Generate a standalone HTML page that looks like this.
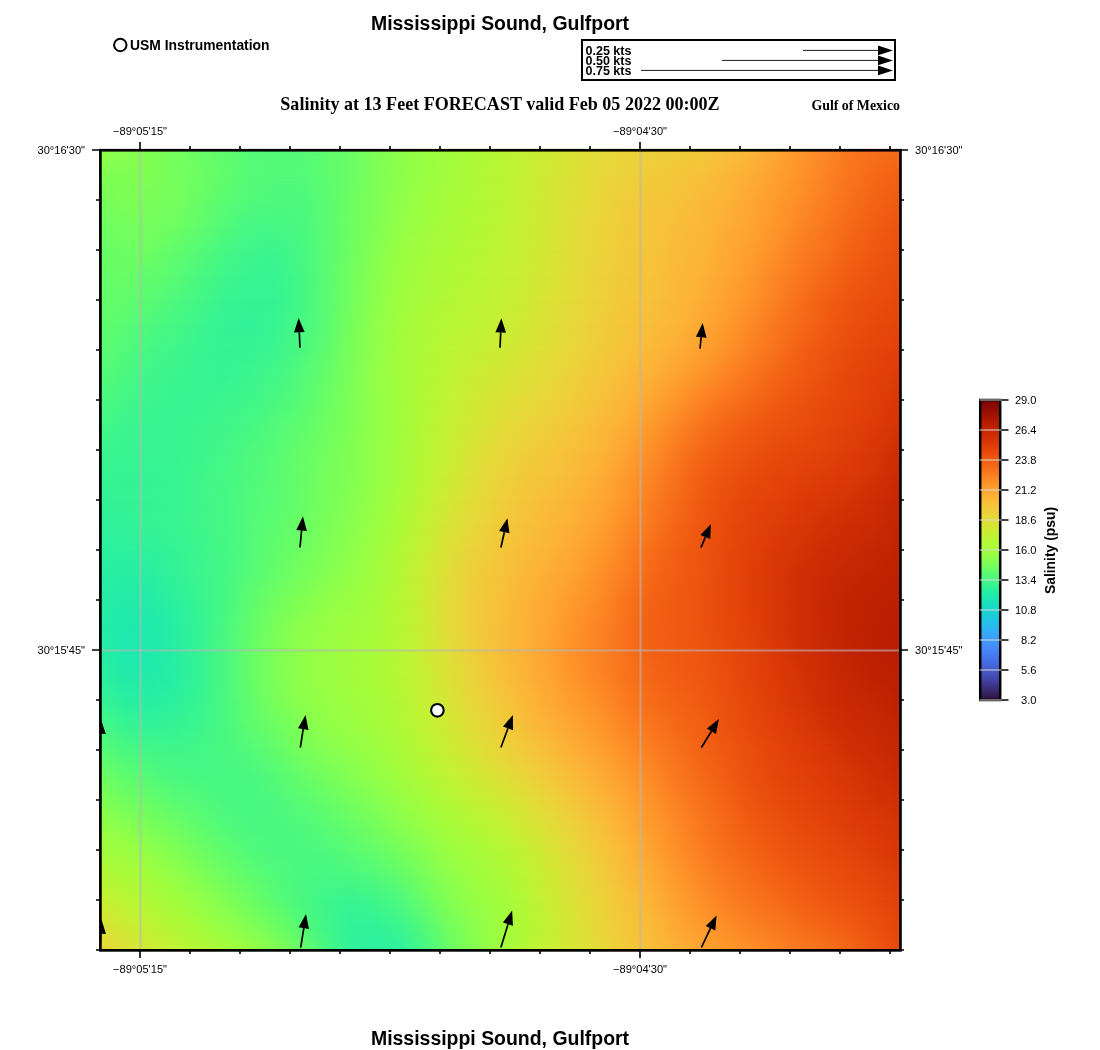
<!DOCTYPE html>
<html><head><meta charset="utf-8"><title>Mississippi Sound, Gulfport</title>
<style>
html,body{margin:0;padding:0;background:#fff}
svg{display:block}
text{font-family:"Liberation Sans",Arial,Helvetica,sans-serif;fill:#000}
.b{font-weight:bold}
.s{font-family:"Liberation Serif","Times New Roman",serif;font-weight:bold}
.t{font-size:11.1px}
</style></head><body>
<svg width="1100" height="1050" viewBox="0 0 1100 1050">
<rect width="1100" height="1050" fill="#fff"/>
<defs><linearGradient id="g0"><stop offset="0" stop-color="#8fff49"/><stop offset="0.03125" stop-color="#88ff4e"/><stop offset="0.0625" stop-color="#80ff53"/><stop offset="0.09375" stop-color="#75fe5c"/><stop offset="0.125" stop-color="#69fd66"/><stop offset="0.1562" stop-color="#5dfc6f"/><stop offset="0.1875" stop-color="#55fa76"/><stop offset="0.2188" stop-color="#52fa7a"/><stop offset="0.25" stop-color="#55fa76"/><stop offset="0.2812" stop-color="#5dfc6f"/><stop offset="0.3125" stop-color="#69fd66"/><stop offset="0.3438" stop-color="#7dff56"/><stop offset="0.375" stop-color="#8bff4b"/><stop offset="0.4062" stop-color="#99fe42"/><stop offset="0.4375" stop-color="#a1fd3d"/><stop offset="0.4688" stop-color="#acfb38"/><stop offset="0.5" stop-color="#b7f735"/><stop offset="0.5312" stop-color="#c3f134"/><stop offset="0.5625" stop-color="#d0ea34"/><stop offset="0.5938" stop-color="#dbe236"/><stop offset="0.625" stop-color="#e3db38"/><stop offset="0.6562" stop-color="#e9d539"/><stop offset="0.6875" stop-color="#ecd13a"/><stop offset="0.7188" stop-color="#efcd3a"/><stop offset="0.75" stop-color="#f2c93a"/><stop offset="0.7812" stop-color="#f7c13a"/><stop offset="0.8125" stop-color="#fbb637"/><stop offset="0.8438" stop-color="#fea732"/><stop offset="0.875" stop-color="#fe962b"/><stop offset="0.9062" stop-color="#fc8725"/><stop offset="0.9375" stop-color="#f9781e"/><stop offset="0.9688" stop-color="#f76f1a"/><stop offset="1" stop-color="#f66c19"/></linearGradient><linearGradient id="g1"><stop offset="0" stop-color="#80ff53"/><stop offset="0.03125" stop-color="#80ff53"/><stop offset="0.0625" stop-color="#80ff53"/><stop offset="0.09375" stop-color="#75fe5c"/><stop offset="0.125" stop-color="#6dfe62"/><stop offset="0.1562" stop-color="#61fc6c"/><stop offset="0.1875" stop-color="#55fa76"/><stop offset="0.2188" stop-color="#52fa7a"/><stop offset="0.25" stop-color="#52fa7a"/><stop offset="0.2812" stop-color="#5dfc6f"/><stop offset="0.3125" stop-color="#69fd66"/><stop offset="0.3438" stop-color="#7dff56"/><stop offset="0.375" stop-color="#8bff4b"/><stop offset="0.4062" stop-color="#99fe42"/><stop offset="0.4375" stop-color="#a4fc3c"/><stop offset="0.4688" stop-color="#affa37"/><stop offset="0.5" stop-color="#b9f635"/><stop offset="0.5312" stop-color="#c6f034"/><stop offset="0.5625" stop-color="#d2e935"/><stop offset="0.5938" stop-color="#dde037"/><stop offset="0.625" stop-color="#e7d739"/><stop offset="0.6562" stop-color="#ecd13a"/><stop offset="0.6875" stop-color="#f1cb3a"/><stop offset="0.7188" stop-color="#f4c73a"/><stop offset="0.75" stop-color="#f7c13a"/><stop offset="0.7812" stop-color="#fbb838"/><stop offset="0.8125" stop-color="#fdae35"/><stop offset="0.8438" stop-color="#fea130"/><stop offset="0.875" stop-color="#fe932a"/><stop offset="0.9062" stop-color="#fc8423"/><stop offset="0.9375" stop-color="#f9751d"/><stop offset="0.9688" stop-color="#f56918"/><stop offset="1" stop-color="#f26014"/></linearGradient><linearGradient id="g2"><stop offset="0" stop-color="#75fe5c"/><stop offset="0.03125" stop-color="#7dff56"/><stop offset="0.0625" stop-color="#79fe59"/><stop offset="0.09375" stop-color="#75fe5c"/><stop offset="0.125" stop-color="#69fd66"/><stop offset="0.1562" stop-color="#59fb73"/><stop offset="0.1875" stop-color="#52fa7a"/><stop offset="0.2188" stop-color="#4ef97d"/><stop offset="0.25" stop-color="#4ef97d"/><stop offset="0.2812" stop-color="#59fb73"/><stop offset="0.3125" stop-color="#6dfe62"/><stop offset="0.3438" stop-color="#7dff56"/><stop offset="0.375" stop-color="#8fff49"/><stop offset="0.4062" stop-color="#9cfe40"/><stop offset="0.4375" stop-color="#a7fc3a"/><stop offset="0.4688" stop-color="#affa37"/><stop offset="0.5" stop-color="#b9f635"/><stop offset="0.5312" stop-color="#c6f034"/><stop offset="0.5625" stop-color="#d4e735"/><stop offset="0.5938" stop-color="#dfdf37"/><stop offset="0.625" stop-color="#e9d539"/><stop offset="0.6562" stop-color="#efcd3a"/><stop offset="0.6875" stop-color="#f4c73a"/><stop offset="0.7188" stop-color="#f6c33a"/><stop offset="0.75" stop-color="#faba39"/><stop offset="0.7812" stop-color="#fcb336"/><stop offset="0.8125" stop-color="#fea732"/><stop offset="0.8438" stop-color="#fe9b2d"/><stop offset="0.875" stop-color="#fd8d27"/><stop offset="0.9062" stop-color="#fb7e21"/><stop offset="0.9375" stop-color="#f76f1a"/><stop offset="0.9688" stop-color="#f36315"/><stop offset="1" stop-color="#f05b12"/></linearGradient><linearGradient id="g3"><stop offset="0" stop-color="#6dfe62"/><stop offset="0.03125" stop-color="#75fe5c"/><stop offset="0.0625" stop-color="#75fe5c"/><stop offset="0.09375" stop-color="#6dfe62"/><stop offset="0.125" stop-color="#61fc6c"/><stop offset="0.1562" stop-color="#52fa7a"/><stop offset="0.1875" stop-color="#46f884"/><stop offset="0.2188" stop-color="#46f884"/><stop offset="0.25" stop-color="#4af880"/><stop offset="0.2812" stop-color="#59fb73"/><stop offset="0.3125" stop-color="#6dfe62"/><stop offset="0.3438" stop-color="#80ff53"/><stop offset="0.375" stop-color="#92ff47"/><stop offset="0.4062" stop-color="#9ffd3f"/><stop offset="0.4375" stop-color="#a9fb39"/><stop offset="0.4688" stop-color="#b1f936"/><stop offset="0.5" stop-color="#bcf534"/><stop offset="0.5312" stop-color="#c8ef34"/><stop offset="0.5625" stop-color="#d4e735"/><stop offset="0.5938" stop-color="#e1dd37"/><stop offset="0.625" stop-color="#ebd339"/><stop offset="0.6562" stop-color="#f1cb3a"/><stop offset="0.6875" stop-color="#f5c53a"/><stop offset="0.7188" stop-color="#f8be39"/><stop offset="0.75" stop-color="#fbb838"/><stop offset="0.7812" stop-color="#fdae35"/><stop offset="0.8125" stop-color="#fea431"/><stop offset="0.8438" stop-color="#fe962b"/><stop offset="0.875" stop-color="#fc8725"/><stop offset="0.9062" stop-color="#f9781e"/><stop offset="0.9375" stop-color="#f56918"/><stop offset="0.9688" stop-color="#f15d13"/><stop offset="1" stop-color="#ed5510"/></linearGradient><linearGradient id="g4"><stop offset="0" stop-color="#69fd66"/><stop offset="0.03125" stop-color="#6dfe62"/><stop offset="0.0625" stop-color="#6dfe62"/><stop offset="0.09375" stop-color="#61fc6c"/><stop offset="0.125" stop-color="#55fa76"/><stop offset="0.1562" stop-color="#46f884"/><stop offset="0.1875" stop-color="#3ff68a"/><stop offset="0.2188" stop-color="#3cf58e"/><stop offset="0.25" stop-color="#46f884"/><stop offset="0.2812" stop-color="#59fb73"/><stop offset="0.3125" stop-color="#6dfe62"/><stop offset="0.3438" stop-color="#84ff51"/><stop offset="0.375" stop-color="#99fe42"/><stop offset="0.4062" stop-color="#a4fc3c"/><stop offset="0.4375" stop-color="#acfb38"/><stop offset="0.4688" stop-color="#b4f836"/><stop offset="0.5" stop-color="#bef434"/><stop offset="0.5312" stop-color="#c8ef34"/><stop offset="0.5625" stop-color="#d7e535"/><stop offset="0.5938" stop-color="#e1dd37"/><stop offset="0.625" stop-color="#ebd339"/><stop offset="0.6562" stop-color="#f1cb3a"/><stop offset="0.6875" stop-color="#f6c33a"/><stop offset="0.7188" stop-color="#f9bc39"/><stop offset="0.75" stop-color="#fbb637"/><stop offset="0.7812" stop-color="#fea933"/><stop offset="0.8125" stop-color="#fe9e2f"/><stop offset="0.8438" stop-color="#fe9029"/><stop offset="0.875" stop-color="#fb7e21"/><stop offset="0.9062" stop-color="#f8721c"/><stop offset="0.9375" stop-color="#f36315"/><stop offset="0.9688" stop-color="#ef5811"/><stop offset="1" stop-color="#eb500e"/></linearGradient><linearGradient id="g5"><stop offset="0" stop-color="#65fd69"/><stop offset="0.03125" stop-color="#69fd66"/><stop offset="0.0625" stop-color="#61fc6c"/><stop offset="0.09375" stop-color="#59fb73"/><stop offset="0.125" stop-color="#4af880"/><stop offset="0.1562" stop-color="#3ff68a"/><stop offset="0.1875" stop-color="#38f491"/><stop offset="0.2188" stop-color="#38f491"/><stop offset="0.25" stop-color="#43f787"/><stop offset="0.2812" stop-color="#59fb73"/><stop offset="0.3125" stop-color="#71fe5f"/><stop offset="0.3438" stop-color="#88ff4e"/><stop offset="0.375" stop-color="#9cfe40"/><stop offset="0.4062" stop-color="#a7fc3a"/><stop offset="0.4375" stop-color="#affa37"/><stop offset="0.4688" stop-color="#b7f735"/><stop offset="0.5" stop-color="#c1f334"/><stop offset="0.5312" stop-color="#cbed34"/><stop offset="0.5625" stop-color="#d9e436"/><stop offset="0.5938" stop-color="#e3db38"/><stop offset="0.625" stop-color="#ecd13a"/><stop offset="0.6562" stop-color="#f2c93a"/><stop offset="0.6875" stop-color="#f6c33a"/><stop offset="0.7188" stop-color="#faba39"/><stop offset="0.75" stop-color="#fcb336"/><stop offset="0.7812" stop-color="#fea732"/><stop offset="0.8125" stop-color="#fe992c"/><stop offset="0.8438" stop-color="#fc8725"/><stop offset="0.875" stop-color="#f9781e"/><stop offset="0.9062" stop-color="#f56918"/><stop offset="0.9375" stop-color="#f05b12"/><stop offset="0.9688" stop-color="#ec530f"/><stop offset="1" stop-color="#e84b0c"/></linearGradient><linearGradient id="g6"><stop offset="0" stop-color="#65fd69"/><stop offset="0.03125" stop-color="#61fc6c"/><stop offset="0.0625" stop-color="#59fb73"/><stop offset="0.09375" stop-color="#4ef97d"/><stop offset="0.125" stop-color="#43f787"/><stop offset="0.1562" stop-color="#38f491"/><stop offset="0.1875" stop-color="#35f394"/><stop offset="0.2188" stop-color="#35f394"/><stop offset="0.25" stop-color="#43f787"/><stop offset="0.2812" stop-color="#59fb73"/><stop offset="0.3125" stop-color="#71fe5f"/><stop offset="0.3438" stop-color="#8bff4b"/><stop offset="0.375" stop-color="#9ffd3f"/><stop offset="0.4062" stop-color="#a9fb39"/><stop offset="0.4375" stop-color="#b4f836"/><stop offset="0.4688" stop-color="#bcf534"/><stop offset="0.5" stop-color="#c3f134"/><stop offset="0.5312" stop-color="#cdec34"/><stop offset="0.5625" stop-color="#dbe236"/><stop offset="0.5938" stop-color="#e5d938"/><stop offset="0.625" stop-color="#ecd13a"/><stop offset="0.6562" stop-color="#f4c73a"/><stop offset="0.6875" stop-color="#f7c13a"/><stop offset="0.7188" stop-color="#fbb838"/><stop offset="0.75" stop-color="#fdae35"/><stop offset="0.7812" stop-color="#fea130"/><stop offset="0.8125" stop-color="#fe932a"/><stop offset="0.8438" stop-color="#fb8122"/><stop offset="0.875" stop-color="#f76f1a"/><stop offset="0.9062" stop-color="#f26014"/><stop offset="0.9375" stop-color="#ed5510"/><stop offset="0.9688" stop-color="#ea4e0d"/><stop offset="1" stop-color="#e7490c"/></linearGradient><linearGradient id="g7"><stop offset="0" stop-color="#61fc6c"/><stop offset="0.03125" stop-color="#59fb73"/><stop offset="0.0625" stop-color="#4ef97d"/><stop offset="0.09375" stop-color="#46f884"/><stop offset="0.125" stop-color="#3cf58e"/><stop offset="0.1562" stop-color="#35f394"/><stop offset="0.1875" stop-color="#32f298"/><stop offset="0.2188" stop-color="#38f491"/><stop offset="0.25" stop-color="#46f884"/><stop offset="0.2812" stop-color="#59fb73"/><stop offset="0.3125" stop-color="#75fe5c"/><stop offset="0.3438" stop-color="#8fff49"/><stop offset="0.375" stop-color="#a1fd3d"/><stop offset="0.4062" stop-color="#affa37"/><stop offset="0.4375" stop-color="#b7f735"/><stop offset="0.4688" stop-color="#bef434"/><stop offset="0.5" stop-color="#c8ef34"/><stop offset="0.5312" stop-color="#d2e935"/><stop offset="0.5625" stop-color="#dde037"/><stop offset="0.5938" stop-color="#e7d739"/><stop offset="0.625" stop-color="#efcd3a"/><stop offset="0.6562" stop-color="#f5c53a"/><stop offset="0.6875" stop-color="#f8be39"/><stop offset="0.7188" stop-color="#fbb637"/><stop offset="0.75" stop-color="#fea933"/><stop offset="0.7812" stop-color="#fe9b2d"/><stop offset="0.8125" stop-color="#fd8a26"/><stop offset="0.8438" stop-color="#f9781e"/><stop offset="0.875" stop-color="#f56918"/><stop offset="0.9062" stop-color="#f05b12"/><stop offset="0.9375" stop-color="#eb500e"/><stop offset="0.9688" stop-color="#e7490c"/><stop offset="1" stop-color="#e4450a"/></linearGradient><linearGradient id="g8"><stop offset="0" stop-color="#5dfc6f"/><stop offset="0.03125" stop-color="#52fa7a"/><stop offset="0.0625" stop-color="#46f884"/><stop offset="0.09375" stop-color="#3ff68a"/><stop offset="0.125" stop-color="#38f491"/><stop offset="0.1562" stop-color="#35f394"/><stop offset="0.1875" stop-color="#35f394"/><stop offset="0.2188" stop-color="#3cf58e"/><stop offset="0.25" stop-color="#4af880"/><stop offset="0.2812" stop-color="#5dfc6f"/><stop offset="0.3125" stop-color="#79fe59"/><stop offset="0.3438" stop-color="#8fff49"/><stop offset="0.375" stop-color="#a4fc3c"/><stop offset="0.4062" stop-color="#affa37"/><stop offset="0.4375" stop-color="#bcf534"/><stop offset="0.4688" stop-color="#c3f134"/><stop offset="0.5" stop-color="#cdec34"/><stop offset="0.5312" stop-color="#d7e535"/><stop offset="0.5625" stop-color="#e1dd37"/><stop offset="0.5938" stop-color="#e9d539"/><stop offset="0.625" stop-color="#f1cb3a"/><stop offset="0.6562" stop-color="#f6c33a"/><stop offset="0.6875" stop-color="#fbb838"/><stop offset="0.7188" stop-color="#fdae35"/><stop offset="0.75" stop-color="#fea130"/><stop offset="0.7812" stop-color="#fe932a"/><stop offset="0.8125" stop-color="#fb8122"/><stop offset="0.8438" stop-color="#f8721c"/><stop offset="0.875" stop-color="#f26014"/><stop offset="0.9062" stop-color="#ed5510"/><stop offset="0.9375" stop-color="#e84b0c"/><stop offset="0.9688" stop-color="#e4450a"/><stop offset="1" stop-color="#e14109"/></linearGradient><linearGradient id="g9"><stop offset="0" stop-color="#55fa76"/><stop offset="0.03125" stop-color="#4af880"/><stop offset="0.0625" stop-color="#3ff68a"/><stop offset="0.09375" stop-color="#3cf58e"/><stop offset="0.125" stop-color="#38f491"/><stop offset="0.1562" stop-color="#35f394"/><stop offset="0.1875" stop-color="#3cf58e"/><stop offset="0.2188" stop-color="#43f787"/><stop offset="0.25" stop-color="#52fa7a"/><stop offset="0.2812" stop-color="#65fd69"/><stop offset="0.3125" stop-color="#79fe59"/><stop offset="0.3438" stop-color="#92ff47"/><stop offset="0.375" stop-color="#a4fc3c"/><stop offset="0.4062" stop-color="#b1f936"/><stop offset="0.4375" stop-color="#bef434"/><stop offset="0.4688" stop-color="#cbed34"/><stop offset="0.5" stop-color="#d4e735"/><stop offset="0.5312" stop-color="#dde037"/><stop offset="0.5625" stop-color="#e5d938"/><stop offset="0.5938" stop-color="#eecf3a"/><stop offset="0.625" stop-color="#f4c73a"/><stop offset="0.6562" stop-color="#f9bc39"/><stop offset="0.6875" stop-color="#fcb136"/><stop offset="0.7188" stop-color="#fea431"/><stop offset="0.75" stop-color="#fe962b"/><stop offset="0.7812" stop-color="#fc8423"/><stop offset="0.8125" stop-color="#f9751d"/><stop offset="0.8438" stop-color="#f46617"/><stop offset="0.875" stop-color="#f05b12"/><stop offset="0.9062" stop-color="#eb500e"/><stop offset="0.9375" stop-color="#e5470b"/><stop offset="0.9688" stop-color="#e14109"/><stop offset="1" stop-color="#dd3d08"/></linearGradient><linearGradient id="g10"><stop offset="0" stop-color="#4ef97d"/><stop offset="0.03125" stop-color="#43f787"/><stop offset="0.0625" stop-color="#3cf58e"/><stop offset="0.09375" stop-color="#38f491"/><stop offset="0.125" stop-color="#38f491"/><stop offset="0.1562" stop-color="#3cf58e"/><stop offset="0.1875" stop-color="#3ff68a"/><stop offset="0.2188" stop-color="#4af880"/><stop offset="0.25" stop-color="#55fa76"/><stop offset="0.2812" stop-color="#69fd66"/><stop offset="0.3125" stop-color="#7dff56"/><stop offset="0.3438" stop-color="#92ff47"/><stop offset="0.375" stop-color="#a1fd3d"/><stop offset="0.4062" stop-color="#b4f836"/><stop offset="0.4375" stop-color="#c1f334"/><stop offset="0.4688" stop-color="#d0ea34"/><stop offset="0.5" stop-color="#dbe236"/><stop offset="0.5312" stop-color="#e3db38"/><stop offset="0.5625" stop-color="#ebd339"/><stop offset="0.5938" stop-color="#f1cb3a"/><stop offset="0.625" stop-color="#f7c13a"/><stop offset="0.6562" stop-color="#fbb637"/><stop offset="0.6875" stop-color="#fea732"/><stop offset="0.7188" stop-color="#fe962b"/><stop offset="0.75" stop-color="#fc8423"/><stop offset="0.7812" stop-color="#f9751d"/><stop offset="0.8125" stop-color="#f56918"/><stop offset="0.8438" stop-color="#f15d13"/><stop offset="0.875" stop-color="#ec530f"/><stop offset="0.9062" stop-color="#e84b0c"/><stop offset="0.9375" stop-color="#e4450a"/><stop offset="0.9688" stop-color="#df3f08"/><stop offset="1" stop-color="#d83706"/></linearGradient><linearGradient id="g11"><stop offset="0" stop-color="#46f884"/><stop offset="0.03125" stop-color="#3cf58e"/><stop offset="0.0625" stop-color="#38f491"/><stop offset="0.09375" stop-color="#38f491"/><stop offset="0.125" stop-color="#3cf58e"/><stop offset="0.1562" stop-color="#3ff68a"/><stop offset="0.1875" stop-color="#46f884"/><stop offset="0.2188" stop-color="#52fa7a"/><stop offset="0.25" stop-color="#5dfc6f"/><stop offset="0.2812" stop-color="#6dfe62"/><stop offset="0.3125" stop-color="#7dff56"/><stop offset="0.3438" stop-color="#92ff47"/><stop offset="0.375" stop-color="#a1fd3d"/><stop offset="0.4062" stop-color="#b4f836"/><stop offset="0.4375" stop-color="#c6f034"/><stop offset="0.4688" stop-color="#d4e735"/><stop offset="0.5" stop-color="#e1dd37"/><stop offset="0.5312" stop-color="#e9d539"/><stop offset="0.5625" stop-color="#efcd3a"/><stop offset="0.5938" stop-color="#f5c53a"/><stop offset="0.625" stop-color="#faba39"/><stop offset="0.6562" stop-color="#fdae35"/><stop offset="0.6875" stop-color="#fe9b2d"/><stop offset="0.7188" stop-color="#fc8725"/><stop offset="0.75" stop-color="#f9751d"/><stop offset="0.7812" stop-color="#f46617"/><stop offset="0.8125" stop-color="#f05b12"/><stop offset="0.8438" stop-color="#ec530f"/><stop offset="0.875" stop-color="#ea4e0d"/><stop offset="0.9062" stop-color="#e5470b"/><stop offset="0.9375" stop-color="#e14109"/><stop offset="0.9688" stop-color="#dc3b07"/><stop offset="1" stop-color="#d43305"/></linearGradient><linearGradient id="g12"><stop offset="0" stop-color="#3cf58e"/><stop offset="0.03125" stop-color="#38f491"/><stop offset="0.0625" stop-color="#38f491"/><stop offset="0.09375" stop-color="#38f491"/><stop offset="0.125" stop-color="#3cf58e"/><stop offset="0.1562" stop-color="#43f787"/><stop offset="0.1875" stop-color="#4ef97d"/><stop offset="0.2188" stop-color="#55fa76"/><stop offset="0.25" stop-color="#65fd69"/><stop offset="0.2812" stop-color="#71fe5f"/><stop offset="0.3125" stop-color="#80ff53"/><stop offset="0.3438" stop-color="#92ff47"/><stop offset="0.375" stop-color="#a4fc3c"/><stop offset="0.4062" stop-color="#b7f735"/><stop offset="0.4375" stop-color="#c8ef34"/><stop offset="0.4688" stop-color="#dbe236"/><stop offset="0.5" stop-color="#e7d739"/><stop offset="0.5312" stop-color="#eecf3a"/><stop offset="0.5625" stop-color="#f4c73a"/><stop offset="0.5938" stop-color="#f8be39"/><stop offset="0.625" stop-color="#fbb637"/><stop offset="0.6562" stop-color="#fea431"/><stop offset="0.6875" stop-color="#fe9029"/><stop offset="0.7188" stop-color="#fa7b1f"/><stop offset="0.75" stop-color="#f56918"/><stop offset="0.7812" stop-color="#f05b12"/><stop offset="0.8125" stop-color="#ec530f"/><stop offset="0.8438" stop-color="#e84b0c"/><stop offset="0.875" stop-color="#e5470b"/><stop offset="0.9062" stop-color="#e2430a"/><stop offset="0.9375" stop-color="#dd3d08"/><stop offset="0.9688" stop-color="#d83706"/><stop offset="1" stop-color="#ce2d04"/></linearGradient><linearGradient id="g13"><stop offset="0" stop-color="#38f491"/><stop offset="0.03125" stop-color="#35f394"/><stop offset="0.0625" stop-color="#35f394"/><stop offset="0.09375" stop-color="#38f491"/><stop offset="0.125" stop-color="#3ff68a"/><stop offset="0.1562" stop-color="#46f884"/><stop offset="0.1875" stop-color="#4ef97d"/><stop offset="0.2188" stop-color="#59fb73"/><stop offset="0.25" stop-color="#65fd69"/><stop offset="0.2812" stop-color="#75fe5c"/><stop offset="0.3125" stop-color="#80ff53"/><stop offset="0.3438" stop-color="#92ff47"/><stop offset="0.375" stop-color="#a4fc3c"/><stop offset="0.4062" stop-color="#b9f635"/><stop offset="0.4375" stop-color="#cdec34"/><stop offset="0.4688" stop-color="#dfdf37"/><stop offset="0.5" stop-color="#ebd339"/><stop offset="0.5312" stop-color="#f2c93a"/><stop offset="0.5625" stop-color="#f6c33a"/><stop offset="0.5938" stop-color="#faba39"/><stop offset="0.625" stop-color="#fdae35"/><stop offset="0.6562" stop-color="#fe9b2d"/><stop offset="0.6875" stop-color="#fc8725"/><stop offset="0.7188" stop-color="#f8721c"/><stop offset="0.75" stop-color="#f26014"/><stop offset="0.7812" stop-color="#ec530f"/><stop offset="0.8125" stop-color="#e84b0c"/><stop offset="0.8438" stop-color="#e4450a"/><stop offset="0.875" stop-color="#e14109"/><stop offset="0.9062" stop-color="#dd3d08"/><stop offset="0.9375" stop-color="#da3907"/><stop offset="0.9688" stop-color="#d43305"/><stop offset="1" stop-color="#ca2a04"/></linearGradient><linearGradient id="g14"><stop offset="0" stop-color="#32f298"/><stop offset="0.03125" stop-color="#35f394"/><stop offset="0.0625" stop-color="#35f394"/><stop offset="0.09375" stop-color="#38f491"/><stop offset="0.125" stop-color="#3ff68a"/><stop offset="0.1562" stop-color="#46f884"/><stop offset="0.1875" stop-color="#52fa7a"/><stop offset="0.2188" stop-color="#59fb73"/><stop offset="0.25" stop-color="#65fd69"/><stop offset="0.2812" stop-color="#75fe5c"/><stop offset="0.3125" stop-color="#84ff51"/><stop offset="0.3438" stop-color="#96fe44"/><stop offset="0.375" stop-color="#a9fb39"/><stop offset="0.4062" stop-color="#bef434"/><stop offset="0.4375" stop-color="#d2e935"/><stop offset="0.4688" stop-color="#e3db38"/><stop offset="0.5" stop-color="#eecf3a"/><stop offset="0.5312" stop-color="#f5c53a"/><stop offset="0.5625" stop-color="#f9bc39"/><stop offset="0.5938" stop-color="#fcb336"/><stop offset="0.625" stop-color="#fea732"/><stop offset="0.6562" stop-color="#fe962b"/><stop offset="0.6875" stop-color="#fb7e21"/><stop offset="0.7188" stop-color="#f66c19"/><stop offset="0.75" stop-color="#f05b12"/><stop offset="0.7812" stop-color="#ea4e0d"/><stop offset="0.8125" stop-color="#e4450a"/><stop offset="0.8438" stop-color="#e14109"/><stop offset="0.875" stop-color="#dc3b07"/><stop offset="0.9062" stop-color="#d83706"/><stop offset="0.9375" stop-color="#d43305"/><stop offset="0.9688" stop-color="#ce2d04"/><stop offset="1" stop-color="#c52603"/></linearGradient><linearGradient id="g15"><stop offset="0" stop-color="#2ff19b"/><stop offset="0.03125" stop-color="#32f298"/><stop offset="0.0625" stop-color="#35f394"/><stop offset="0.09375" stop-color="#38f491"/><stop offset="0.125" stop-color="#3ff68a"/><stop offset="0.1562" stop-color="#46f884"/><stop offset="0.1875" stop-color="#52fa7a"/><stop offset="0.2188" stop-color="#5dfc6f"/><stop offset="0.25" stop-color="#69fd66"/><stop offset="0.2812" stop-color="#79fe59"/><stop offset="0.3125" stop-color="#88ff4e"/><stop offset="0.3438" stop-color="#99fe42"/><stop offset="0.375" stop-color="#acfb38"/><stop offset="0.4062" stop-color="#c3f134"/><stop offset="0.4375" stop-color="#d9e436"/><stop offset="0.4688" stop-color="#e7d739"/><stop offset="0.5" stop-color="#f1cb3a"/><stop offset="0.5312" stop-color="#f7c13a"/><stop offset="0.5625" stop-color="#fbb838"/><stop offset="0.5938" stop-color="#fdae35"/><stop offset="0.625" stop-color="#fea130"/><stop offset="0.6562" stop-color="#fd8d27"/><stop offset="0.6875" stop-color="#f9781e"/><stop offset="0.7188" stop-color="#f46617"/><stop offset="0.75" stop-color="#ef5811"/><stop offset="0.7812" stop-color="#e84b0c"/><stop offset="0.8125" stop-color="#e2430a"/><stop offset="0.8438" stop-color="#dd3d08"/><stop offset="0.875" stop-color="#d83706"/><stop offset="0.9062" stop-color="#d23105"/><stop offset="0.9375" stop-color="#ce2d04"/><stop offset="0.9688" stop-color="#ca2a04"/><stop offset="1" stop-color="#c32503"/></linearGradient><linearGradient id="g16"><stop offset="0" stop-color="#2cf09e"/><stop offset="0.03125" stop-color="#2cf09e"/><stop offset="0.0625" stop-color="#2ff19b"/><stop offset="0.09375" stop-color="#35f394"/><stop offset="0.125" stop-color="#3cf58e"/><stop offset="0.1562" stop-color="#46f884"/><stop offset="0.1875" stop-color="#52fa7a"/><stop offset="0.2188" stop-color="#61fc6c"/><stop offset="0.25" stop-color="#6dfe62"/><stop offset="0.2812" stop-color="#7dff56"/><stop offset="0.3125" stop-color="#8bff4b"/><stop offset="0.3438" stop-color="#9ffd3f"/><stop offset="0.375" stop-color="#b1f936"/><stop offset="0.4062" stop-color="#c8ef34"/><stop offset="0.4375" stop-color="#dde037"/><stop offset="0.4688" stop-color="#ecd13a"/><stop offset="0.5" stop-color="#f4c73a"/><stop offset="0.5312" stop-color="#f9bc39"/><stop offset="0.5625" stop-color="#fcb336"/><stop offset="0.5938" stop-color="#fea732"/><stop offset="0.625" stop-color="#fe992c"/><stop offset="0.6562" stop-color="#fc8423"/><stop offset="0.6875" stop-color="#f76f1a"/><stop offset="0.7188" stop-color="#f26014"/><stop offset="0.75" stop-color="#ed5510"/><stop offset="0.7812" stop-color="#e7490c"/><stop offset="0.8125" stop-color="#e14109"/><stop offset="0.8438" stop-color="#da3907"/><stop offset="0.875" stop-color="#d43305"/><stop offset="0.9062" stop-color="#ce2d04"/><stop offset="0.9375" stop-color="#ca2a04"/><stop offset="0.9688" stop-color="#c52603"/><stop offset="1" stop-color="#c12302"/></linearGradient><linearGradient id="g17"><stop offset="0" stop-color="#2aefa1"/><stop offset="0.03125" stop-color="#27eea4"/><stop offset="0.0625" stop-color="#2aefa1"/><stop offset="0.09375" stop-color="#32f298"/><stop offset="0.125" stop-color="#3cf58e"/><stop offset="0.1562" stop-color="#46f884"/><stop offset="0.1875" stop-color="#55fa76"/><stop offset="0.2188" stop-color="#65fd69"/><stop offset="0.25" stop-color="#75fe5c"/><stop offset="0.2812" stop-color="#84ff51"/><stop offset="0.3125" stop-color="#92ff47"/><stop offset="0.3438" stop-color="#a1fd3d"/><stop offset="0.375" stop-color="#b4f836"/><stop offset="0.4062" stop-color="#cdec34"/><stop offset="0.4375" stop-color="#e1dd37"/><stop offset="0.4688" stop-color="#efcd3a"/><stop offset="0.5" stop-color="#f6c33a"/><stop offset="0.5312" stop-color="#fbb838"/><stop offset="0.5625" stop-color="#fdac34"/><stop offset="0.5938" stop-color="#fea130"/><stop offset="0.625" stop-color="#fe9029"/><stop offset="0.6562" stop-color="#fb7e21"/><stop offset="0.6875" stop-color="#f56918"/><stop offset="0.7188" stop-color="#f15d13"/><stop offset="0.75" stop-color="#ed5510"/><stop offset="0.7812" stop-color="#e7490c"/><stop offset="0.8125" stop-color="#df3f08"/><stop offset="0.8438" stop-color="#d83706"/><stop offset="0.875" stop-color="#d02f05"/><stop offset="0.9062" stop-color="#ca2a04"/><stop offset="0.9375" stop-color="#c52603"/><stop offset="0.9688" stop-color="#c12302"/><stop offset="1" stop-color="#be2102"/></linearGradient><linearGradient id="g18"><stop offset="0" stop-color="#27eea4"/><stop offset="0.03125" stop-color="#22ebaa"/><stop offset="0.0625" stop-color="#25eca7"/><stop offset="0.09375" stop-color="#2cf09e"/><stop offset="0.125" stop-color="#38f491"/><stop offset="0.1562" stop-color="#46f884"/><stop offset="0.1875" stop-color="#5dfc6f"/><stop offset="0.2188" stop-color="#71fe5f"/><stop offset="0.25" stop-color="#80ff53"/><stop offset="0.2812" stop-color="#8fff49"/><stop offset="0.3125" stop-color="#99fe42"/><stop offset="0.3438" stop-color="#a4fc3c"/><stop offset="0.375" stop-color="#b7f735"/><stop offset="0.4062" stop-color="#cdec34"/><stop offset="0.4375" stop-color="#e3db38"/><stop offset="0.4688" stop-color="#f1cb3a"/><stop offset="0.5" stop-color="#f7c13a"/><stop offset="0.5312" stop-color="#fcb336"/><stop offset="0.5625" stop-color="#fea732"/><stop offset="0.5938" stop-color="#fe992c"/><stop offset="0.625" stop-color="#fd8a26"/><stop offset="0.6562" stop-color="#f9751d"/><stop offset="0.6875" stop-color="#f36315"/><stop offset="0.7188" stop-color="#f05b12"/><stop offset="0.75" stop-color="#ec530f"/><stop offset="0.7812" stop-color="#e7490c"/><stop offset="0.8125" stop-color="#df3f08"/><stop offset="0.8438" stop-color="#d83706"/><stop offset="0.875" stop-color="#d02f05"/><stop offset="0.9062" stop-color="#c82803"/><stop offset="0.9375" stop-color="#c12302"/><stop offset="0.9688" stop-color="#be2102"/><stop offset="1" stop-color="#bc2002"/></linearGradient><linearGradient id="g19"><stop offset="0" stop-color="#25eca7"/><stop offset="0.03125" stop-color="#20eaac"/><stop offset="0.0625" stop-color="#20eaac"/><stop offset="0.09375" stop-color="#27eea4"/><stop offset="0.125" stop-color="#35f394"/><stop offset="0.1562" stop-color="#4af880"/><stop offset="0.1875" stop-color="#61fc6c"/><stop offset="0.2188" stop-color="#79fe59"/><stop offset="0.25" stop-color="#8bff4b"/><stop offset="0.2812" stop-color="#96fe44"/><stop offset="0.3125" stop-color="#9ffd3f"/><stop offset="0.3438" stop-color="#a7fc3a"/><stop offset="0.375" stop-color="#b7f735"/><stop offset="0.4062" stop-color="#cdec34"/><stop offset="0.4375" stop-color="#e3db38"/><stop offset="0.4688" stop-color="#f1cb3a"/><stop offset="0.5" stop-color="#f8be39"/><stop offset="0.5312" stop-color="#fcb136"/><stop offset="0.5625" stop-color="#fea431"/><stop offset="0.5938" stop-color="#fe932a"/><stop offset="0.625" stop-color="#fc8423"/><stop offset="0.6562" stop-color="#f8721c"/><stop offset="0.6875" stop-color="#f26014"/><stop offset="0.7188" stop-color="#f05b12"/><stop offset="0.75" stop-color="#ec530f"/><stop offset="0.7812" stop-color="#e7490c"/><stop offset="0.8125" stop-color="#e14109"/><stop offset="0.8438" stop-color="#d83706"/><stop offset="0.875" stop-color="#d02f05"/><stop offset="0.9062" stop-color="#c82803"/><stop offset="0.9375" stop-color="#c12302"/><stop offset="0.9688" stop-color="#bc2002"/><stop offset="1" stop-color="#b91e02"/></linearGradient><linearGradient id="g20"><stop offset="0" stop-color="#27eea4"/><stop offset="0.03125" stop-color="#1fe9af"/><stop offset="0.0625" stop-color="#20eaac"/><stop offset="0.09375" stop-color="#27eea4"/><stop offset="0.125" stop-color="#35f394"/><stop offset="0.1562" stop-color="#4af880"/><stop offset="0.1875" stop-color="#65fd69"/><stop offset="0.2188" stop-color="#7dff56"/><stop offset="0.25" stop-color="#8fff49"/><stop offset="0.2812" stop-color="#99fe42"/><stop offset="0.3125" stop-color="#a1fd3d"/><stop offset="0.3438" stop-color="#a9fb39"/><stop offset="0.375" stop-color="#b7f735"/><stop offset="0.4062" stop-color="#cdec34"/><stop offset="0.4375" stop-color="#e1dd37"/><stop offset="0.4688" stop-color="#efcd3a"/><stop offset="0.5" stop-color="#f8be39"/><stop offset="0.5312" stop-color="#fcb136"/><stop offset="0.5625" stop-color="#fea130"/><stop offset="0.5938" stop-color="#fe9029"/><stop offset="0.625" stop-color="#fb8122"/><stop offset="0.6562" stop-color="#f8721c"/><stop offset="0.6875" stop-color="#f26014"/><stop offset="0.7188" stop-color="#f05b12"/><stop offset="0.75" stop-color="#ed5510"/><stop offset="0.7812" stop-color="#e84b0c"/><stop offset="0.8125" stop-color="#e2430a"/><stop offset="0.8438" stop-color="#da3907"/><stop offset="0.875" stop-color="#d02f05"/><stop offset="0.9062" stop-color="#ca2a04"/><stop offset="0.9375" stop-color="#c12302"/><stop offset="0.9688" stop-color="#bc2002"/><stop offset="1" stop-color="#b91e02"/></linearGradient><linearGradient id="g21"><stop offset="0" stop-color="#2cf09e"/><stop offset="0.03125" stop-color="#22ebaa"/><stop offset="0.0625" stop-color="#22ebaa"/><stop offset="0.09375" stop-color="#27eea4"/><stop offset="0.125" stop-color="#35f394"/><stop offset="0.1562" stop-color="#4af880"/><stop offset="0.1875" stop-color="#65fd69"/><stop offset="0.2188" stop-color="#7dff56"/><stop offset="0.25" stop-color="#8fff49"/><stop offset="0.2812" stop-color="#99fe42"/><stop offset="0.3125" stop-color="#a1fd3d"/><stop offset="0.3438" stop-color="#a9fb39"/><stop offset="0.375" stop-color="#b7f735"/><stop offset="0.4062" stop-color="#c8ef34"/><stop offset="0.4375" stop-color="#dde037"/><stop offset="0.4688" stop-color="#ecd13a"/><stop offset="0.5" stop-color="#f7c13a"/><stop offset="0.5312" stop-color="#fcb336"/><stop offset="0.5625" stop-color="#fea431"/><stop offset="0.5938" stop-color="#fe932a"/><stop offset="0.625" stop-color="#fc8423"/><stop offset="0.6562" stop-color="#f9751d"/><stop offset="0.6875" stop-color="#f46617"/><stop offset="0.7188" stop-color="#f15d13"/><stop offset="0.75" stop-color="#ef5811"/><stop offset="0.7812" stop-color="#ea4e0d"/><stop offset="0.8125" stop-color="#e2430a"/><stop offset="0.8438" stop-color="#dc3b07"/><stop offset="0.875" stop-color="#d43305"/><stop offset="0.9062" stop-color="#cc2b04"/><stop offset="0.9375" stop-color="#c52603"/><stop offset="0.9688" stop-color="#be2102"/><stop offset="1" stop-color="#bc2002"/></linearGradient><linearGradient id="g22"><stop offset="0" stop-color="#38f491"/><stop offset="0.03125" stop-color="#2aefa1"/><stop offset="0.0625" stop-color="#27eea4"/><stop offset="0.09375" stop-color="#2cf09e"/><stop offset="0.125" stop-color="#38f491"/><stop offset="0.1562" stop-color="#4af880"/><stop offset="0.1875" stop-color="#61fc6c"/><stop offset="0.2188" stop-color="#79fe59"/><stop offset="0.25" stop-color="#8bff4b"/><stop offset="0.2812" stop-color="#96fe44"/><stop offset="0.3125" stop-color="#9ffd3f"/><stop offset="0.3438" stop-color="#a7fc3a"/><stop offset="0.375" stop-color="#b4f836"/><stop offset="0.4062" stop-color="#c6f034"/><stop offset="0.4375" stop-color="#d9e436"/><stop offset="0.4688" stop-color="#e9d539"/><stop offset="0.5" stop-color="#f4c73a"/><stop offset="0.5312" stop-color="#fbb838"/><stop offset="0.5625" stop-color="#fea933"/><stop offset="0.5938" stop-color="#fe9b2d"/><stop offset="0.625" stop-color="#fd8d27"/><stop offset="0.6562" stop-color="#fa7b1f"/><stop offset="0.6875" stop-color="#f66c19"/><stop offset="0.7188" stop-color="#f36315"/><stop offset="0.75" stop-color="#f05b12"/><stop offset="0.7812" stop-color="#eb500e"/><stop offset="0.8125" stop-color="#e5470b"/><stop offset="0.8438" stop-color="#dd3d08"/><stop offset="0.875" stop-color="#d63506"/><stop offset="0.9062" stop-color="#ce2d04"/><stop offset="0.9375" stop-color="#c82803"/><stop offset="0.9688" stop-color="#c32503"/><stop offset="1" stop-color="#be2102"/></linearGradient><linearGradient id="g23"><stop offset="0" stop-color="#46f884"/><stop offset="0.03125" stop-color="#38f491"/><stop offset="0.0625" stop-color="#32f298"/><stop offset="0.09375" stop-color="#35f394"/><stop offset="0.125" stop-color="#3cf58e"/><stop offset="0.1562" stop-color="#4af880"/><stop offset="0.1875" stop-color="#5dfc6f"/><stop offset="0.2188" stop-color="#6dfe62"/><stop offset="0.25" stop-color="#80ff53"/><stop offset="0.2812" stop-color="#8fff49"/><stop offset="0.3125" stop-color="#99fe42"/><stop offset="0.3438" stop-color="#a4fc3c"/><stop offset="0.375" stop-color="#affa37"/><stop offset="0.4062" stop-color="#c1f334"/><stop offset="0.4375" stop-color="#d2e935"/><stop offset="0.4688" stop-color="#e3db38"/><stop offset="0.5" stop-color="#efcd3a"/><stop offset="0.5312" stop-color="#f8be39"/><stop offset="0.5625" stop-color="#fcb136"/><stop offset="0.5938" stop-color="#fea431"/><stop offset="0.625" stop-color="#fe962b"/><stop offset="0.6562" stop-color="#fc8423"/><stop offset="0.6875" stop-color="#f9751d"/><stop offset="0.7188" stop-color="#f56918"/><stop offset="0.75" stop-color="#f26014"/><stop offset="0.7812" stop-color="#ec530f"/><stop offset="0.8125" stop-color="#e7490c"/><stop offset="0.8438" stop-color="#e14109"/><stop offset="0.875" stop-color="#da3907"/><stop offset="0.9062" stop-color="#d23105"/><stop offset="0.9375" stop-color="#cc2b04"/><stop offset="0.9688" stop-color="#c82803"/><stop offset="1" stop-color="#c32503"/></linearGradient><linearGradient id="g24"><stop offset="0" stop-color="#59fb73"/><stop offset="0.03125" stop-color="#4af880"/><stop offset="0.0625" stop-color="#43f787"/><stop offset="0.09375" stop-color="#3ff68a"/><stop offset="0.125" stop-color="#43f787"/><stop offset="0.1562" stop-color="#4af880"/><stop offset="0.1875" stop-color="#52fa7a"/><stop offset="0.2188" stop-color="#61fc6c"/><stop offset="0.25" stop-color="#75fe5c"/><stop offset="0.2812" stop-color="#84ff51"/><stop offset="0.3125" stop-color="#8fff49"/><stop offset="0.3438" stop-color="#9cfe40"/><stop offset="0.375" stop-color="#a9fb39"/><stop offset="0.4062" stop-color="#b9f635"/><stop offset="0.4375" stop-color="#cbed34"/><stop offset="0.4688" stop-color="#dbe236"/><stop offset="0.5" stop-color="#e9d539"/><stop offset="0.5312" stop-color="#f2c93a"/><stop offset="0.5625" stop-color="#f9bc39"/><stop offset="0.5938" stop-color="#fdae35"/><stop offset="0.625" stop-color="#fea130"/><stop offset="0.6562" stop-color="#fe9029"/><stop offset="0.6875" stop-color="#fb7e21"/><stop offset="0.7188" stop-color="#f8721c"/><stop offset="0.75" stop-color="#f36315"/><stop offset="0.7812" stop-color="#ef5811"/><stop offset="0.8125" stop-color="#ea4e0d"/><stop offset="0.8438" stop-color="#e4450a"/><stop offset="0.875" stop-color="#dd3d08"/><stop offset="0.9062" stop-color="#d83706"/><stop offset="0.9375" stop-color="#d02f05"/><stop offset="0.9688" stop-color="#cc2b04"/><stop offset="1" stop-color="#c52603"/></linearGradient><linearGradient id="g25"><stop offset="0" stop-color="#6dfe62"/><stop offset="0.03125" stop-color="#5dfc6f"/><stop offset="0.0625" stop-color="#52fa7a"/><stop offset="0.09375" stop-color="#4af880"/><stop offset="0.125" stop-color="#46f884"/><stop offset="0.1562" stop-color="#46f884"/><stop offset="0.1875" stop-color="#4af880"/><stop offset="0.2188" stop-color="#55fa76"/><stop offset="0.25" stop-color="#65fd69"/><stop offset="0.2812" stop-color="#75fe5c"/><stop offset="0.3125" stop-color="#84ff51"/><stop offset="0.3438" stop-color="#92ff47"/><stop offset="0.375" stop-color="#a1fd3d"/><stop offset="0.4062" stop-color="#b1f936"/><stop offset="0.4375" stop-color="#c1f334"/><stop offset="0.4688" stop-color="#d0ea34"/><stop offset="0.5" stop-color="#dfdf37"/><stop offset="0.5312" stop-color="#ebd339"/><stop offset="0.5625" stop-color="#f4c73a"/><stop offset="0.5938" stop-color="#faba39"/><stop offset="0.625" stop-color="#fdac34"/><stop offset="0.6562" stop-color="#fe9b2d"/><stop offset="0.6875" stop-color="#fd8a26"/><stop offset="0.7188" stop-color="#f9781e"/><stop offset="0.75" stop-color="#f56918"/><stop offset="0.7812" stop-color="#f15d13"/><stop offset="0.8125" stop-color="#eb500e"/><stop offset="0.8438" stop-color="#e5470b"/><stop offset="0.875" stop-color="#e14109"/><stop offset="0.9062" stop-color="#dc3b07"/><stop offset="0.9375" stop-color="#d63506"/><stop offset="0.9688" stop-color="#d02f05"/><stop offset="1" stop-color="#ca2a04"/></linearGradient><linearGradient id="g26"><stop offset="0" stop-color="#80ff53"/><stop offset="0.03125" stop-color="#71fe5f"/><stop offset="0.0625" stop-color="#65fd69"/><stop offset="0.09375" stop-color="#59fb73"/><stop offset="0.125" stop-color="#52fa7a"/><stop offset="0.1562" stop-color="#4af880"/><stop offset="0.1875" stop-color="#46f884"/><stop offset="0.2188" stop-color="#4ef97d"/><stop offset="0.25" stop-color="#59fb73"/><stop offset="0.2812" stop-color="#65fd69"/><stop offset="0.3125" stop-color="#75fe5c"/><stop offset="0.3438" stop-color="#84ff51"/><stop offset="0.375" stop-color="#96fe44"/><stop offset="0.4062" stop-color="#a4fc3c"/><stop offset="0.4375" stop-color="#b4f836"/><stop offset="0.4688" stop-color="#c3f134"/><stop offset="0.5" stop-color="#d0ea34"/><stop offset="0.5312" stop-color="#dfdf37"/><stop offset="0.5625" stop-color="#ebd339"/><stop offset="0.5938" stop-color="#f5c53a"/><stop offset="0.625" stop-color="#fbb637"/><stop offset="0.6562" stop-color="#fea732"/><stop offset="0.6875" stop-color="#fe932a"/><stop offset="0.7188" stop-color="#fb8122"/><stop offset="0.75" stop-color="#f8721c"/><stop offset="0.7812" stop-color="#f36315"/><stop offset="0.8125" stop-color="#ed5510"/><stop offset="0.8438" stop-color="#e84b0c"/><stop offset="0.875" stop-color="#e4450a"/><stop offset="0.9062" stop-color="#df3f08"/><stop offset="0.9375" stop-color="#da3907"/><stop offset="0.9688" stop-color="#d43305"/><stop offset="1" stop-color="#d02f05"/></linearGradient><linearGradient id="g27"><stop offset="0" stop-color="#92ff47"/><stop offset="0.03125" stop-color="#88ff4e"/><stop offset="0.0625" stop-color="#79fe59"/><stop offset="0.09375" stop-color="#6dfe62"/><stop offset="0.125" stop-color="#5dfc6f"/><stop offset="0.1562" stop-color="#52fa7a"/><stop offset="0.1875" stop-color="#4af880"/><stop offset="0.2188" stop-color="#4af880"/><stop offset="0.25" stop-color="#4ef97d"/><stop offset="0.2812" stop-color="#59fb73"/><stop offset="0.3125" stop-color="#65fd69"/><stop offset="0.3438" stop-color="#75fe5c"/><stop offset="0.375" stop-color="#88ff4e"/><stop offset="0.4062" stop-color="#99fe42"/><stop offset="0.4375" stop-color="#a7fc3a"/><stop offset="0.4688" stop-color="#b4f836"/><stop offset="0.5" stop-color="#c1f334"/><stop offset="0.5312" stop-color="#d2e935"/><stop offset="0.5625" stop-color="#e1dd37"/><stop offset="0.5938" stop-color="#eecf3a"/><stop offset="0.625" stop-color="#f7c13a"/><stop offset="0.6562" stop-color="#fdae35"/><stop offset="0.6875" stop-color="#fe9b2d"/><stop offset="0.7188" stop-color="#fd8a26"/><stop offset="0.75" stop-color="#f9781e"/><stop offset="0.7812" stop-color="#f56918"/><stop offset="0.8125" stop-color="#f05b12"/><stop offset="0.8438" stop-color="#ec530f"/><stop offset="0.875" stop-color="#e7490c"/><stop offset="0.9062" stop-color="#e2430a"/><stop offset="0.9375" stop-color="#dd3d08"/><stop offset="0.9688" stop-color="#da3907"/><stop offset="1" stop-color="#d43305"/></linearGradient><linearGradient id="g28"><stop offset="0" stop-color="#a1fd3d"/><stop offset="0.03125" stop-color="#9cfe40"/><stop offset="0.0625" stop-color="#8fff49"/><stop offset="0.09375" stop-color="#80ff53"/><stop offset="0.125" stop-color="#6dfe62"/><stop offset="0.1562" stop-color="#5dfc6f"/><stop offset="0.1875" stop-color="#52fa7a"/><stop offset="0.2188" stop-color="#4af880"/><stop offset="0.25" stop-color="#4af880"/><stop offset="0.2812" stop-color="#4ef97d"/><stop offset="0.3125" stop-color="#59fb73"/><stop offset="0.3438" stop-color="#65fd69"/><stop offset="0.375" stop-color="#75fe5c"/><stop offset="0.4062" stop-color="#88ff4e"/><stop offset="0.4375" stop-color="#9cfe40"/><stop offset="0.4688" stop-color="#a7fc3a"/><stop offset="0.5" stop-color="#b4f836"/><stop offset="0.5312" stop-color="#c3f134"/><stop offset="0.5625" stop-color="#d7e535"/><stop offset="0.5938" stop-color="#e7d739"/><stop offset="0.625" stop-color="#f4c73a"/><stop offset="0.6562" stop-color="#fbb838"/><stop offset="0.6875" stop-color="#fea431"/><stop offset="0.7188" stop-color="#fe9029"/><stop offset="0.75" stop-color="#fb7e21"/><stop offset="0.7812" stop-color="#f76f1a"/><stop offset="0.8125" stop-color="#f36315"/><stop offset="0.8438" stop-color="#ef5811"/><stop offset="0.875" stop-color="#eb500e"/><stop offset="0.9062" stop-color="#e7490c"/><stop offset="0.9375" stop-color="#e2430a"/><stop offset="0.9688" stop-color="#dd3d08"/><stop offset="1" stop-color="#d83706"/></linearGradient><linearGradient id="g29"><stop offset="0" stop-color="#b4f836"/><stop offset="0.03125" stop-color="#acfb38"/><stop offset="0.0625" stop-color="#a1fd3d"/><stop offset="0.09375" stop-color="#92ff47"/><stop offset="0.125" stop-color="#80ff53"/><stop offset="0.1562" stop-color="#6dfe62"/><stop offset="0.1875" stop-color="#5dfc6f"/><stop offset="0.2188" stop-color="#52fa7a"/><stop offset="0.25" stop-color="#4af880"/><stop offset="0.2812" stop-color="#46f884"/><stop offset="0.3125" stop-color="#4af880"/><stop offset="0.3438" stop-color="#52fa7a"/><stop offset="0.375" stop-color="#61fc6c"/><stop offset="0.4062" stop-color="#79fe59"/><stop offset="0.4375" stop-color="#8fff49"/><stop offset="0.4688" stop-color="#9ffd3f"/><stop offset="0.5" stop-color="#a9fb39"/><stop offset="0.5312" stop-color="#bcf534"/><stop offset="0.5625" stop-color="#d0ea34"/><stop offset="0.5938" stop-color="#e1dd37"/><stop offset="0.625" stop-color="#efcd3a"/><stop offset="0.6562" stop-color="#f9bc39"/><stop offset="0.6875" stop-color="#fdac34"/><stop offset="0.7188" stop-color="#fe992c"/><stop offset="0.75" stop-color="#fc8725"/><stop offset="0.7812" stop-color="#f9781e"/><stop offset="0.8125" stop-color="#f66c19"/><stop offset="0.8438" stop-color="#f26014"/><stop offset="0.875" stop-color="#ef5811"/><stop offset="0.9062" stop-color="#eb500e"/><stop offset="0.9375" stop-color="#e7490c"/><stop offset="0.9688" stop-color="#e2430a"/><stop offset="1" stop-color="#dd3d08"/></linearGradient><linearGradient id="g30"><stop offset="0" stop-color="#c6f034"/><stop offset="0.03125" stop-color="#bcf534"/><stop offset="0.0625" stop-color="#affa37"/><stop offset="0.09375" stop-color="#a1fd3d"/><stop offset="0.125" stop-color="#92ff47"/><stop offset="0.1562" stop-color="#80ff53"/><stop offset="0.1875" stop-color="#6dfe62"/><stop offset="0.2188" stop-color="#59fb73"/><stop offset="0.25" stop-color="#4af880"/><stop offset="0.2812" stop-color="#3ff68a"/><stop offset="0.3125" stop-color="#38f491"/><stop offset="0.3438" stop-color="#3ff68a"/><stop offset="0.375" stop-color="#4ef97d"/><stop offset="0.4062" stop-color="#69fd66"/><stop offset="0.4375" stop-color="#84ff51"/><stop offset="0.4688" stop-color="#96fe44"/><stop offset="0.5" stop-color="#a1fd3d"/><stop offset="0.5312" stop-color="#b4f836"/><stop offset="0.5625" stop-color="#cbed34"/><stop offset="0.5938" stop-color="#dde037"/><stop offset="0.625" stop-color="#ebd339"/><stop offset="0.6562" stop-color="#f6c33a"/><stop offset="0.6875" stop-color="#fcb336"/><stop offset="0.7188" stop-color="#fea130"/><stop offset="0.75" stop-color="#fe9029"/><stop offset="0.7812" stop-color="#fb8122"/><stop offset="0.8125" stop-color="#f9751d"/><stop offset="0.8438" stop-color="#f66c19"/><stop offset="0.875" stop-color="#f26014"/><stop offset="0.9062" stop-color="#ef5811"/><stop offset="0.9375" stop-color="#eb500e"/><stop offset="0.9688" stop-color="#e7490c"/><stop offset="1" stop-color="#e14109"/></linearGradient><linearGradient id="g31"><stop offset="0" stop-color="#d9e436"/><stop offset="0.03125" stop-color="#cdec34"/><stop offset="0.0625" stop-color="#bef434"/><stop offset="0.09375" stop-color="#b1f936"/><stop offset="0.125" stop-color="#a4fc3c"/><stop offset="0.1562" stop-color="#92ff47"/><stop offset="0.1875" stop-color="#80ff53"/><stop offset="0.2188" stop-color="#6dfe62"/><stop offset="0.25" stop-color="#55fa76"/><stop offset="0.2812" stop-color="#3ff68a"/><stop offset="0.3125" stop-color="#32f298"/><stop offset="0.3438" stop-color="#32f298"/><stop offset="0.375" stop-color="#3cf58e"/><stop offset="0.4062" stop-color="#55fa76"/><stop offset="0.4375" stop-color="#75fe5c"/><stop offset="0.4688" stop-color="#8bff4b"/><stop offset="0.5" stop-color="#9ffd3f"/><stop offset="0.5312" stop-color="#b1f936"/><stop offset="0.5625" stop-color="#c6f034"/><stop offset="0.5938" stop-color="#d9e436"/><stop offset="0.625" stop-color="#e9d539"/><stop offset="0.6562" stop-color="#f4c73a"/><stop offset="0.6875" stop-color="#faba39"/><stop offset="0.7188" stop-color="#fea933"/><stop offset="0.75" stop-color="#fe9b2d"/><stop offset="0.7812" stop-color="#fd8d27"/><stop offset="0.8125" stop-color="#fb8122"/><stop offset="0.8438" stop-color="#f9781e"/><stop offset="0.875" stop-color="#f66c19"/><stop offset="0.9062" stop-color="#f36315"/><stop offset="0.9375" stop-color="#f05b12"/><stop offset="0.9688" stop-color="#eb500e"/><stop offset="1" stop-color="#e4450a"/></linearGradient><linearGradient id="g32"><stop offset="0" stop-color="#ebd339"/><stop offset="0.03125" stop-color="#dde037"/><stop offset="0.0625" stop-color="#d0ea34"/><stop offset="0.09375" stop-color="#c1f334"/><stop offset="0.125" stop-color="#b4f836"/><stop offset="0.1562" stop-color="#a7fc3a"/><stop offset="0.1875" stop-color="#99fe42"/><stop offset="0.2188" stop-color="#84ff51"/><stop offset="0.25" stop-color="#69fd66"/><stop offset="0.2812" stop-color="#4af880"/><stop offset="0.3125" stop-color="#32f298"/><stop offset="0.3438" stop-color="#2aefa1"/><stop offset="0.375" stop-color="#2ff19b"/><stop offset="0.4062" stop-color="#46f884"/><stop offset="0.4375" stop-color="#69fd66"/><stop offset="0.4688" stop-color="#88ff4e"/><stop offset="0.5" stop-color="#9ffd3f"/><stop offset="0.5312" stop-color="#b4f836"/><stop offset="0.5625" stop-color="#c6f034"/><stop offset="0.5938" stop-color="#d9e436"/><stop offset="0.625" stop-color="#e5d938"/><stop offset="0.6562" stop-color="#f1cb3a"/><stop offset="0.6875" stop-color="#f8be39"/><stop offset="0.7188" stop-color="#fcb136"/><stop offset="0.75" stop-color="#fea431"/><stop offset="0.7812" stop-color="#fe992c"/><stop offset="0.8125" stop-color="#fe9029"/><stop offset="0.8438" stop-color="#fc8423"/><stop offset="0.875" stop-color="#fa7b1f"/><stop offset="0.9062" stop-color="#f8721c"/><stop offset="0.9375" stop-color="#f46617"/><stop offset="0.9688" stop-color="#ef5811"/><stop offset="1" stop-color="#e7490c"/></linearGradient><linearGradient id="vg" x1="0" y1="0" x2="0" y2="1"><stop offset="0" stop-color="#000"/><stop offset="1" stop-color="#fff"/></linearGradient><mask id="vm" maskContentUnits="objectBoundingBox" x="0" y="0" width="1" height="1"><rect width="1" height="1" fill="url(#vg)"/></mask></defs>
<g shape-rendering="crispEdges"><rect x="100" y="150" width="800" height="25" fill="url(#g0)"/><rect x="100" y="150" width="800" height="25" fill="url(#g1)" mask="url(#vm)"/><rect x="100" y="175" width="800" height="25" fill="url(#g1)"/><rect x="100" y="175" width="800" height="25" fill="url(#g2)" mask="url(#vm)"/><rect x="100" y="200" width="800" height="25" fill="url(#g2)"/><rect x="100" y="200" width="800" height="25" fill="url(#g3)" mask="url(#vm)"/><rect x="100" y="225" width="800" height="25" fill="url(#g3)"/><rect x="100" y="225" width="800" height="25" fill="url(#g4)" mask="url(#vm)"/><rect x="100" y="250" width="800" height="25" fill="url(#g4)"/><rect x="100" y="250" width="800" height="25" fill="url(#g5)" mask="url(#vm)"/><rect x="100" y="275" width="800" height="25" fill="url(#g5)"/><rect x="100" y="275" width="800" height="25" fill="url(#g6)" mask="url(#vm)"/><rect x="100" y="300" width="800" height="25" fill="url(#g6)"/><rect x="100" y="300" width="800" height="25" fill="url(#g7)" mask="url(#vm)"/><rect x="100" y="325" width="800" height="25" fill="url(#g7)"/><rect x="100" y="325" width="800" height="25" fill="url(#g8)" mask="url(#vm)"/><rect x="100" y="350" width="800" height="25" fill="url(#g8)"/><rect x="100" y="350" width="800" height="25" fill="url(#g9)" mask="url(#vm)"/><rect x="100" y="375" width="800" height="25" fill="url(#g9)"/><rect x="100" y="375" width="800" height="25" fill="url(#g10)" mask="url(#vm)"/><rect x="100" y="400" width="800" height="25" fill="url(#g10)"/><rect x="100" y="400" width="800" height="25" fill="url(#g11)" mask="url(#vm)"/><rect x="100" y="425" width="800" height="25" fill="url(#g11)"/><rect x="100" y="425" width="800" height="25" fill="url(#g12)" mask="url(#vm)"/><rect x="100" y="450" width="800" height="25" fill="url(#g12)"/><rect x="100" y="450" width="800" height="25" fill="url(#g13)" mask="url(#vm)"/><rect x="100" y="475" width="800" height="25" fill="url(#g13)"/><rect x="100" y="475" width="800" height="25" fill="url(#g14)" mask="url(#vm)"/><rect x="100" y="500" width="800" height="25" fill="url(#g14)"/><rect x="100" y="500" width="800" height="25" fill="url(#g15)" mask="url(#vm)"/><rect x="100" y="525" width="800" height="25" fill="url(#g15)"/><rect x="100" y="525" width="800" height="25" fill="url(#g16)" mask="url(#vm)"/><rect x="100" y="550" width="800" height="25" fill="url(#g16)"/><rect x="100" y="550" width="800" height="25" fill="url(#g17)" mask="url(#vm)"/><rect x="100" y="575" width="800" height="25" fill="url(#g17)"/><rect x="100" y="575" width="800" height="25" fill="url(#g18)" mask="url(#vm)"/><rect x="100" y="600" width="800" height="25" fill="url(#g18)"/><rect x="100" y="600" width="800" height="25" fill="url(#g19)" mask="url(#vm)"/><rect x="100" y="625" width="800" height="25" fill="url(#g19)"/><rect x="100" y="625" width="800" height="25" fill="url(#g20)" mask="url(#vm)"/><rect x="100" y="650" width="800" height="25" fill="url(#g20)"/><rect x="100" y="650" width="800" height="25" fill="url(#g21)" mask="url(#vm)"/><rect x="100" y="675" width="800" height="25" fill="url(#g21)"/><rect x="100" y="675" width="800" height="25" fill="url(#g22)" mask="url(#vm)"/><rect x="100" y="700" width="800" height="25" fill="url(#g22)"/><rect x="100" y="700" width="800" height="25" fill="url(#g23)" mask="url(#vm)"/><rect x="100" y="725" width="800" height="25" fill="url(#g23)"/><rect x="100" y="725" width="800" height="25" fill="url(#g24)" mask="url(#vm)"/><rect x="100" y="750" width="800" height="25" fill="url(#g24)"/><rect x="100" y="750" width="800" height="25" fill="url(#g25)" mask="url(#vm)"/><rect x="100" y="775" width="800" height="25" fill="url(#g25)"/><rect x="100" y="775" width="800" height="25" fill="url(#g26)" mask="url(#vm)"/><rect x="100" y="800" width="800" height="25" fill="url(#g26)"/><rect x="100" y="800" width="800" height="25" fill="url(#g27)" mask="url(#vm)"/><rect x="100" y="825" width="800" height="25" fill="url(#g27)"/><rect x="100" y="825" width="800" height="25" fill="url(#g28)" mask="url(#vm)"/><rect x="100" y="850" width="800" height="25" fill="url(#g28)"/><rect x="100" y="850" width="800" height="25" fill="url(#g29)" mask="url(#vm)"/><rect x="100" y="875" width="800" height="25" fill="url(#g29)"/><rect x="100" y="875" width="800" height="25" fill="url(#g30)" mask="url(#vm)"/><rect x="100" y="900" width="800" height="25" fill="url(#g30)"/><rect x="100" y="900" width="800" height="25" fill="url(#g31)" mask="url(#vm)"/><rect x="100" y="925" width="800" height="25" fill="url(#g31)"/><rect x="100" y="925" width="800" height="25" fill="url(#g32)" mask="url(#vm)"/></g>
<g stroke="#b7b7b7" stroke-opacity="0.6" stroke-width="2" fill="none"><path d="M140.5 150V950"/><path d="M640.5 150V950"/><path d="M100 650.5H900"/></g>
<clipPath id="mc"><rect x="100" y="150" width="800" height="800"/></clipPath>
<g clip-path="url(#mc)"><path d="M300.0 347.7L299.3 332.2" stroke="#000" stroke-width="1.7" fill="none"/><path d="M298.6 318.0L304.6 331.9L294.0 332.4Z" fill="#000"/><path d="M500.0 347.7L500.7 332.5" stroke="#000" stroke-width="1.7" fill="none"/><path d="M501.4 318.3L506.0 332.7L495.4 332.2Z" fill="#000"/><path d="M700.0 348.6L701.2 337.2" stroke="#000" stroke-width="1.7" fill="none"/><path d="M702.7 323.1L706.5 337.8L695.9 336.7Z" fill="#000"/><path d="M300.0 547.5L301.6 530.4" stroke="#000" stroke-width="1.7" fill="none"/><path d="M302.9 516.3L306.9 530.9L296.3 529.9Z" fill="#000"/><path d="M500.9 547.5L504.3 532.2" stroke="#000" stroke-width="1.7" fill="none"/><path d="M507.4 518.3L509.5 533.3L499.1 531.0Z" fill="#000"/><path d="M700.9 547.7L705.4 537.1" stroke="#000" stroke-width="1.7" fill="none"/><path d="M710.9 524.0L710.3 539.1L700.5 535.0Z" fill="#000"/><path d="M300.3 747.5L303.2 729.1" stroke="#000" stroke-width="1.7" fill="none"/><path d="M305.5 715.1L308.5 730.0L298.0 728.3Z" fill="#000"/><path d="M500.9 747.5L508.0 728.3" stroke="#000" stroke-width="1.7" fill="none"/><path d="M512.9 715.0L513.0 730.2L503.0 726.5Z" fill="#000"/><path d="M701.4 747.5L711.5 731.2" stroke="#000" stroke-width="1.7" fill="none"/><path d="M718.9 719.1L716.0 734.0L706.9 728.4Z" fill="#000"/><path d="M300.7 947.7L303.8 928.0" stroke="#000" stroke-width="1.7" fill="none"/><path d="M306.0 914.0L309.0 928.9L298.6 927.2Z" fill="#000"/><path d="M500.9 947.5L508.0 924.2" stroke="#000" stroke-width="1.7" fill="none"/><path d="M512.1 910.6L513.0 925.7L502.9 922.6Z" fill="#000"/><path d="M701.4 947.5L710.5 928.2" stroke="#000" stroke-width="1.7" fill="none"/><path d="M716.6 915.4L715.3 930.5L705.7 926.0Z" fill="#000"/><path d="M100.0 747.5L100.5 733.7" stroke="#000" stroke-width="1.7" fill="none"/><path d="M101.0 719.5L105.8 733.9L95.2 733.5Z" fill="#000"/><path d="M100.0 947.5L100.7 933.7" stroke="#000" stroke-width="1.7" fill="none"/><path d="M101.5 919.5L106.0 934.0L95.4 933.4Z" fill="#000"/></g>
<circle cx="437.4" cy="710.3" r="6.3" fill="#fff" stroke="#000" stroke-width="2.1"/>
<rect x="100.4" y="150.25" width="800.05" height="800.1" fill="none" stroke="#000" stroke-width="2.7"/>
<path d="M140 150v-8M140 950v8M190 150v-4M190 950v4M240 150v-4M240 950v4M290 150v-4M290 950v4M340 150v-4M340 950v4M390 150v-4M390 950v4M440 150v-4M440 950v4M490 150v-4M490 950v4M540 150v-4M540 950v4M590 150v-4M590 950v4M640 150v-8M640 950v8M690 150v-4M690 950v4M740 150v-4M740 950v4M790 150v-4M790 950v4M840 150v-4M840 950v4M890 150v-4M890 950v4M100 150h-8M900 150h8M100 200h-4M900 200h4M100 250h-4M900 250h4M100 300h-4M900 300h4M100 350h-4M900 350h4M100 400h-4M900 400h4M100 450h-4M900 450h4M100 500h-4M900 500h4M100 550h-4M900 550h4M100 600h-4M900 600h4M100 650h-8M900 650h8M100 700h-4M900 700h4M100 750h-4M900 750h4M100 800h-4M900 800h4M100 850h-4M900 850h4M100 900h-4M900 900h4M100 950h-4M900 950h4" stroke="#000" stroke-width="1.6" fill="none"/>
<g class="t">
<text x="140" y="135" text-anchor="middle">−89°05'15"</text>
<text x="640" y="135" text-anchor="middle">−89°04'30"</text>
<text x="140" y="973" text-anchor="middle">−89°05'15"</text>
<text x="640" y="973" text-anchor="middle">−89°04'30"</text>
<text x="85" y="154" text-anchor="end">30°16'30"</text>
<text x="85" y="654" text-anchor="end">30°15'45"</text>
<text x="915" y="154">30°16'30"</text>
<text x="915" y="654">30°15'45"</text>
</g>
<text class="b" x="500" y="30" text-anchor="middle" font-size="19.44">Mississippi Sound, Gulfport</text>
<text class="b" x="500" y="1045" text-anchor="middle" font-size="19.44">Mississippi Sound, Gulfport</text>
<circle cx="120.3" cy="45" r="6.2" fill="#fff" stroke="#000" stroke-width="2"/>
<text class="b" x="130" y="50" font-size="13.89">USM Instrumentation</text>
<text class="s" x="500" y="110" text-anchor="middle" font-size="18.06">Salinity at 13 Feet FORECAST valid Feb 05 2022 00:00Z</text>
<text class="s" x="900" y="110" text-anchor="end" font-size="13.89">Gulf of Mexico</text>
<rect x="582" y="40" width="313" height="40" fill="#fff" stroke="#000" stroke-width="2"/>
<g class="b" font-size="12.5"><text x="585.5" y="55">0.25 kts</text><text x="585.5" y="65">0.50 kts</text><text x="585.5" y="75">0.75 kts</text></g>
<path d="M803 50.4H880M722 60.4H880M641 70.4H880" stroke="#000" stroke-width="0.9" fill="none"/>
<path d="M893 50.4L878 45.6V55.2ZM893 60.4L878 55.6V65.2ZM893 70.4L878 65.6V75.2Z" fill="#000"/>
<defs><linearGradient id="cb" x1="0" y1="0" x2="0" y2="1"><stop offset="0" stop-color="#7a0403"/><stop offset="0.025" stop-color="#8e0a01"/><stop offset="0.05" stop-color="#a11201"/><stop offset="0.075" stop-color="#b41b01"/><stop offset="0.1" stop-color="#c32503"/><stop offset="0.125" stop-color="#d02f05"/><stop offset="0.15" stop-color="#dd3d08"/><stop offset="0.175" stop-color="#e7490c"/><stop offset="0.2" stop-color="#f05b12"/><stop offset="0.225" stop-color="#f66c19"/><stop offset="0.25" stop-color="#fb7e21"/><stop offset="0.275" stop-color="#fe932a"/><stop offset="0.3" stop-color="#fea431"/><stop offset="0.325" stop-color="#fbb637"/><stop offset="0.35" stop-color="#f6c33a"/><stop offset="0.375" stop-color="#eecf3a"/><stop offset="0.4" stop-color="#e1dd37"/><stop offset="0.425" stop-color="#d4e735"/><stop offset="0.45" stop-color="#c3f134"/><stop offset="0.475" stop-color="#b4f836"/><stop offset="0.5" stop-color="#a4fc3c"/><stop offset="0.525" stop-color="#8fff49"/><stop offset="0.55" stop-color="#79fe59"/><stop offset="0.575" stop-color="#5dfc6f"/><stop offset="0.6" stop-color="#46f884"/><stop offset="0.625" stop-color="#32f298"/><stop offset="0.65" stop-color="#20eaac"/><stop offset="0.675" stop-color="#19e2bb"/><stop offset="0.7" stop-color="#19d5cd"/><stop offset="0.725" stop-color="#1fc9dd"/><stop offset="0.75" stop-color="#28bceb"/><stop offset="0.775" stop-color="#35abf8"/><stop offset="0.8" stop-color="#3e9bfe"/><stop offset="0.825" stop-color="#458afc"/><stop offset="0.85" stop-color="#477bf2"/><stop offset="0.875" stop-color="#466be3"/><stop offset="0.9" stop-color="#4559cb"/><stop offset="0.925" stop-color="#4249b1"/><stop offset="0.95" stop-color="#3d358b"/><stop offset="0.975" stop-color="#372466"/><stop offset="1" stop-color="#30123b"/></linearGradient></defs>
<rect x="980.2" y="400" width="20" height="300" fill="url(#cb)" stroke="#000" stroke-width="2.5"/>
<path d="M979.5 400H1001M979.5 430H1001M979.5 460H1001M979.5 490H1001M979.5 520H1001M979.5 550H1001M979.5 580H1001M979.5 610H1001M979.5 640H1001M979.5 670H1001M979.5 700H1001" stroke="#d8d8d8" stroke-width="1.2" fill="none"/>
<path d="M1001.5 400h7M1001.5 430h7M1001.5 460h7M1001.5 490h7M1001.5 520h7M1001.5 550h7M1001.5 580h7M1001.5 610h7M1001.5 640h7M1001.5 670h7M1001.5 700h7" stroke="#000" stroke-width="1.4" fill="none"/>
<g class="t" text-anchor="end"><text x="1036.5" y="404">29.0</text><text x="1036.5" y="434">26.4</text><text x="1036.5" y="464">23.8</text><text x="1036.5" y="494">21.2</text><text x="1036.5" y="524">18.6</text><text x="1036.5" y="554">16.0</text><text x="1036.5" y="584">13.4</text><text x="1036.5" y="614">10.8</text><text x="1036.5" y="644">8.2</text><text x="1036.5" y="674">5.6</text><text x="1036.5" y="704">3.0</text></g>
<text class="b" font-size="13.89" text-anchor="middle" transform="translate(1054.8 550.5) rotate(-90)">Salinity (psu)</text>
</svg></body></html>
